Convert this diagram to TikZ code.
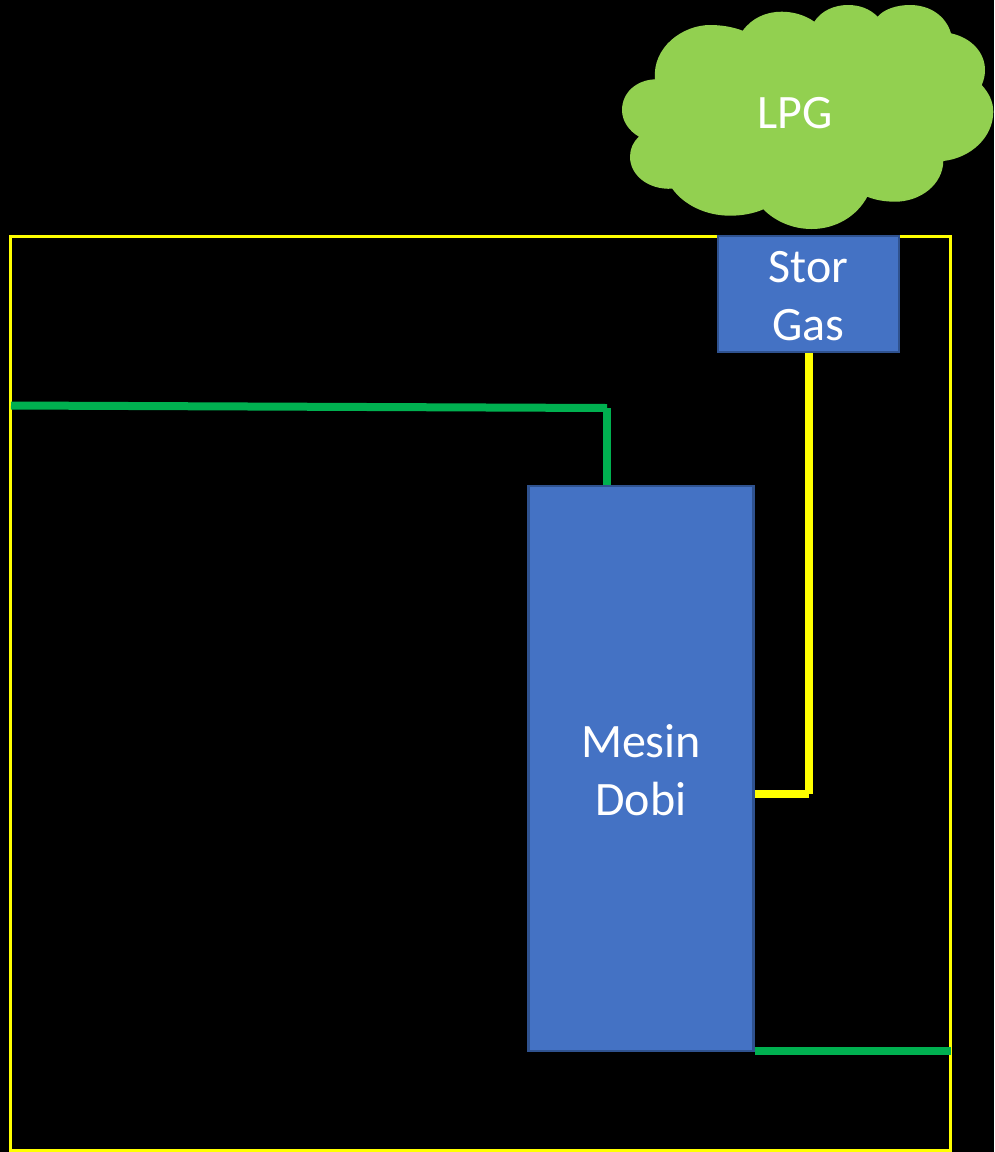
\documentclass[tikz,border=0pt]{standalone}
\usepackage{fontspec}
\setmainfont{Carlito}
\definecolor{boxblue}{HTML}{4472C4}
\definecolor{boxedge}{HTML}{2F528F}
\definecolor{cloudgreen}{HTML}{92D050}
\definecolor{pipegreen}{HTML}{00B050}
\definecolor{pipeyellow}{HTML}{FFFF00}
\tikzset{
  unitbox/.style={draw=boxedge,fill=boxblue,line width=2.5pt,inner sep=0pt},
  unittext/.style={text=white,align=center,inner sep=0pt,yshift=-1.6pt,
    font=\fontsize{48}{58}\selectfont},
  framebox/.style={draw=pipeyellow,line width=3.2pt,inner sep=0pt},
  greenpipe/.style={draw=pipegreen,line width=8pt},
  yellowpipe/.style={draw=pipeyellow,line width=8pt},
  cloudlabel/.style={text=white,font=\fontsize{48}{58}\selectfont,inner sep=0pt}
}
\begin{document}
\begin{tikzpicture}[x=1pt,y=-1pt]
\useasboundingbox (0,0) rectangle (994,1152);
\fill[black] (0,0) rectangle (994,1152);
% room frame
\node[framebox,minimum width=939.8pt,minimum height=914.4pt] (room) at (480.25,693.5) {};
% cloud
\fill[cloudgreen]
  (655,79.3) .. controls (652,47) and (683,25) .. (710,25)
  .. controls (722,25) and (733,27) .. (742.7,30.7)
  .. controls (752,18) and (766,11.7) .. (781.7,11.7)
  .. controls (793,11.7) and (805,15) .. (814.3,21.7)
  .. controls (821,11) and (834,5) .. (848,5)
  .. controls (860,5) and (870,9) .. (877.7,16.7)
  .. controls (884,9) and (897,5) .. (910,5)
  .. controls (930,5) and (946,16) .. (951,33.3)
  .. controls (972,38) and (985,53) .. (985,70)
  .. controls (985,75) and (984,80) .. (981.7,85)
  .. controls (989,93) and (993.3,102) .. (993.3,111.7)
  .. controls (993.3,137) and (971,158) .. (943.3,161)
  .. controls (943,184) and (921,201.7) .. (895,201.7)
  .. controls (885,201.7) and (875,200) .. (867.3,196.7)
  .. controls (857,216) and (836,229) .. (811.7,229)
  .. controls (792,229) and (775,221) .. (763.3,209.3)
  .. controls (754,213.5) and (742,215.7) .. (730,215.7)
  .. controls (706,215.7) and (684,205) .. (672.3,188.7)
  .. controls (648,190) and (630,175) .. (630,156.7)
  .. controls (630,149) and (633,142) .. (639,136.7)
  .. controls (629,131) and (622,121) .. (622,110)
  .. controls (622,93) and (636,80) .. (655,79.3)
  -- cycle;
\node[cloudlabel] (lpg) at (795,113) {LPG};
% machines
\node[unitbox,minimum width=181pt,minimum height=116pt,
  label={[unittext]center:{Stor\\Gas}}] (stor) at (808.7,294) {};
\node[unitbox,minimum width=225.4pt,minimum height=565pt,
  label={[unittext]center:{Mesin\\Dobi}}] (mesin) at (641,768.5) {};
% connector points
\coordinate (gIn) at (11,405.5);
\coordinate (gBend) at (607,408);
\coordinate (yBend) at (808.7,794.3);
\coordinate (gOut) at (951,1051);
% pipes
\draw[greenpipe] (gIn) -- (gBend);
\draw[greenpipe] (gBend) -- (gBend |- mesin.north);
\draw[yellowpipe] (stor.south) -- (yBend);
\draw[yellowpipe] (mesin.east |- yBend) -- (yBend);
\draw[greenpipe] (mesin.east |- gOut) -- (gOut);
\end{tikzpicture}
\end{document}
